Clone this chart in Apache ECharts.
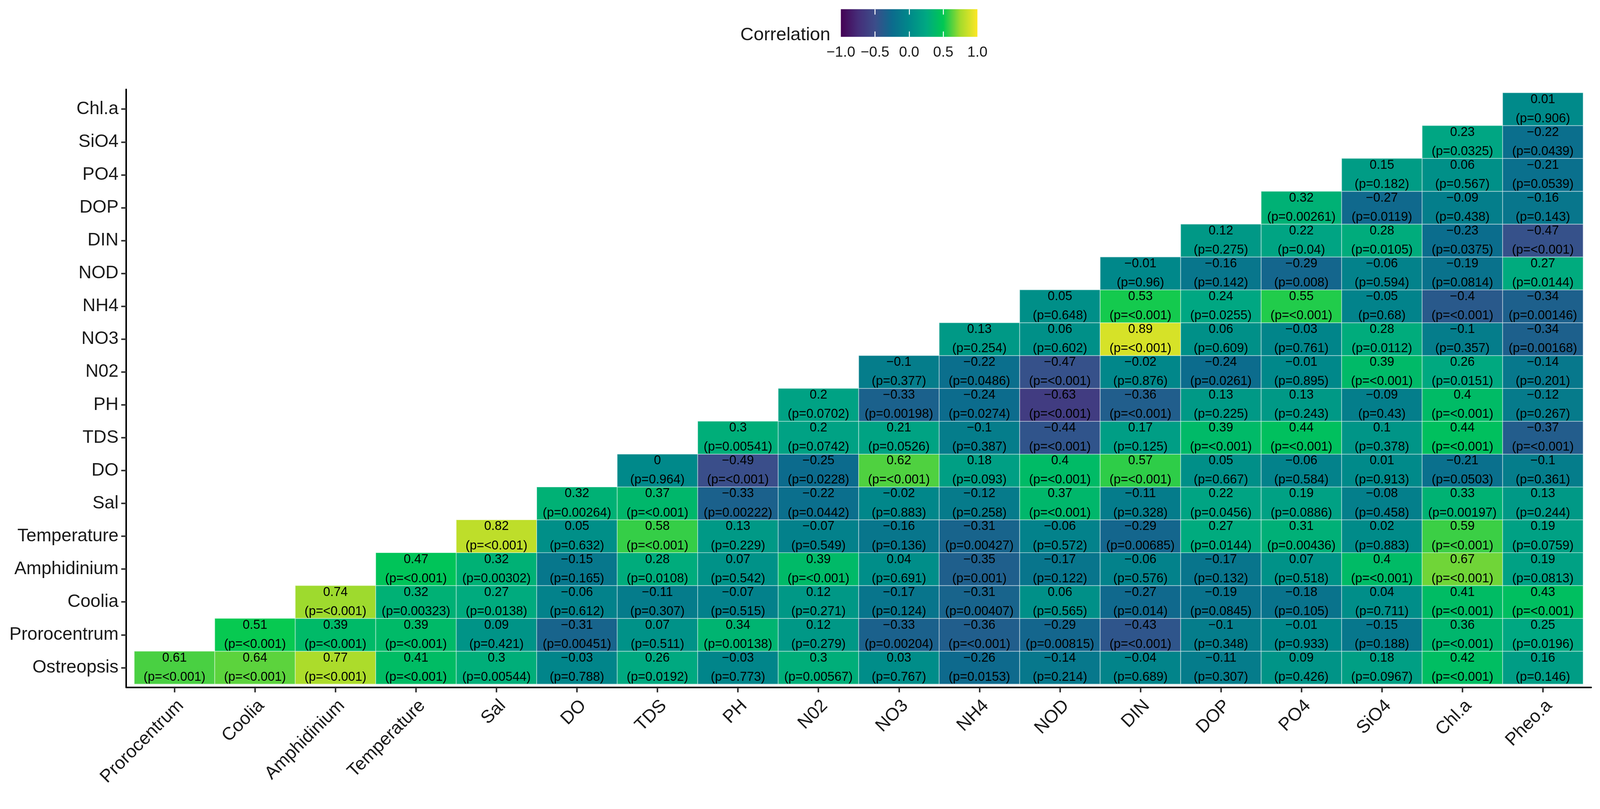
<!DOCTYPE html>
<html><head><meta charset="utf-8">
<script src="https://cdn.jsdelivr.net/npm/echarts@6/dist/echarts.min.js"></script>
<style>html,body{margin:0;padding:0;background:#fff;overflow:hidden;width:100%;height:100%}#chart{width:100vw;height:100vh}</style>
</head><body><div id="chart"></div>
<script>
const xCategories = ['Prorocentrum','Coolia','Amphidinium','Temperature','Sal','DO','TDS','PH','N02','NO3','NH4','NOD','DIN','DOP','PO4','SiO4','Chl.a','Pheo.a'];
const yCategories = ['Ostreopsis','Prorocentrum','Coolia','Amphidinium','Temperature','Sal','DO','TDS','PH','N02','NO3','NH4','NOD','DIN','DOP','PO4','SiO4','Chl.a'];

// row j (y category j) holds columns j..17
const rValues = [
 [0.61,0.64,0.77,0.41,0.3,-0.03,0.26,-0.03,0.3,0.03,-0.26,-0.14,-0.04,-0.11,0.09,0.18,0.42,0.16],
 [0.51,0.39,0.39,0.09,-0.31,0.07,0.34,0.12,-0.33,-0.36,-0.29,-0.43,-0.1,-0.01,-0.15,0.36,0.25],
 [0.74,0.32,0.27,-0.06,-0.11,-0.07,0.12,-0.17,-0.31,0.06,-0.27,-0.19,-0.18,0.04,0.41,0.43],
 [0.47,0.32,-0.15,0.28,0.07,0.39,0.04,-0.35,-0.17,-0.06,-0.17,0.07,0.4,0.67,0.19],
 [0.82,0.05,0.58,0.13,-0.07,-0.16,-0.31,-0.06,-0.29,0.27,0.31,0.02,0.59,0.19],
 [0.32,0.37,-0.33,-0.22,-0.02,-0.12,0.37,-0.11,0.22,0.19,-0.08,0.33,0.13],
 [0,-0.49,-0.25,0.62,0.18,0.4,0.57,0.05,-0.06,0.01,-0.21,-0.1],
 [0.3,0.2,0.21,-0.1,-0.44,0.17,0.39,0.44,0.1,0.44,-0.37],
 [0.2,-0.33,-0.24,-0.63,-0.36,0.13,0.13,-0.09,0.4,-0.12],
 [-0.1,-0.22,-0.47,-0.02,-0.24,-0.01,0.39,0.26,-0.14],
 [0.13,0.06,0.89,0.06,-0.03,0.28,-0.1,-0.34],
 [0.05,0.53,0.24,0.55,-0.05,-0.4,-0.34],
 [-0.01,-0.16,-0.29,-0.06,-0.19,0.27],
 [0.12,0.22,0.28,-0.23,-0.47],
 [0.32,-0.27,-0.09,-0.16],
 [0.15,0.06,-0.21],
 [0.23,-0.22],
 [0.01]
];
const pValues = [
 ['<0.001','<0.001','<0.001','<0.001','0.00544','0.788','0.0192','0.773','0.00567','0.767','0.0153','0.214','0.689','0.307','0.426','0.0967','<0.001','0.146'],
 ['<0.001','<0.001','<0.001','0.421','0.00451','0.511','0.00138','0.279','0.00204','<0.001','0.00815','<0.001','0.348','0.933','0.188','<0.001','0.0196'],
 ['<0.001','0.00323','0.0138','0.612','0.307','0.515','0.271','0.124','0.00407','0.565','0.014','0.0845','0.105','0.711','<0.001','<0.001'],
 ['<0.001','0.00302','0.165','0.0108','0.542','<0.001','0.691','0.001','0.122','0.576','0.132','0.518','<0.001','<0.001','0.0813'],
 ['<0.001','0.632','<0.001','0.229','0.549','0.136','0.00427','0.572','0.00685','0.0144','0.00436','0.883','<0.001','0.0759'],
 ['0.00264','<0.001','0.00222','0.0442','0.883','0.258','<0.001','0.328','0.0456','0.0886','0.458','0.00197','0.244'],
 ['0.964','<0.001','0.0228','<0.001','0.093','<0.001','<0.001','0.667','0.584','0.913','0.0503','0.361'],
 ['0.00541','0.0742','0.0526','0.387','<0.001','0.125','<0.001','<0.001','0.378','<0.001','<0.001'],
 ['0.0702','0.00198','0.0274','<0.001','<0.001','0.225','0.243','0.43','<0.001','0.267'],
 ['0.377','0.0486','<0.001','0.876','0.0261','0.895','<0.001','0.0151','0.201'],
 ['0.254','0.602','<0.001','0.609','0.761','0.0112','0.357','0.00168'],
 ['0.648','<0.001','0.0255','<0.001','0.68','<0.001','0.00146'],
 ['0.96','0.142','0.008','0.594','0.0814','0.0144'],
 ['0.275','0.04','0.0105','0.0375','<0.001'],
 ['0.00261','0.0119','0.438','0.143'],
 ['0.182','0.567','0.0539'],
 ['0.0325','0.0439'],
 ['0.906']
];
const legendTicks = [-1, -0.5, 0, 0.5, 1];
const legendRange = [-1, 1];
const palette = ['#440154','#452d78','#3c4d8a','#0c6b8d','#00898a','#00a882','#00c853','#a5db2c','#fde725'];

const FONT = 'Liberation Sans, Arial, sans-serif';
const minus = s => String(s).replace('-', '\u2212');

const cells = [];
rValues.forEach((row, j) => {
  row.forEach((r, k) => {
    cells.push({ value: [j + k, j, r], p: pValues[j][k] });
  });
});
const idx = xCategories.map((_, i) => i);

const chart = echarts.init(document.getElementById('chart'), null, { renderer: 'canvas' });
// layout designed in 4171-px-wide picture units; one uniform scale to CSS pixels
const s = chart.getWidth() / 4171;
const X = v => v * s, Y = v => v * s, F = v => v * s;

function rectItem(params, api) {
  const x = api.value(0), y = api.value(1);
  const a = api.coord([x - 0.5, y + 0.5]);
  const b = api.coord([x + 0.5, y - 0.5]);
  return {
    type: 'rect',
    shape: { x: a[0], y: a[1], width: b[0] - a[0], height: b[1] - a[1] },
    style: { fill: api.visual('color'), stroke: 'rgba(255,255,255,0.45)', lineWidth: F(2) }
  };
}
function textItem(params, api) {
  const x = api.value(0), y = api.value(1);
  const c = api.coord([x, y]);
  const cell = cells[params.dataIndex];
  const font = F(33) + 'px ' + FONT;
  return {
    type: 'group',
    children: [
      { type: 'text', x: c[0], y: c[1] - Y(25), style: { text: minus(cell.value[2]), fill: '#000', font, align: 'center', verticalAlign: 'middle' } },
      { type: 'text', x: c[0], y: c[1] + Y(25), style: { text: '(p=' + cell.p + ')', fill: '#000', font, align: 'center', verticalAlign: 'middle' } }
    ]
  };
}
function legendItem(params, api) {
  const a = api.coord([api.value(0), 1]);
  const b = api.coord([api.value(1), 0]);
  return {
    type: 'rect',
    shape: { x: a[0], y: a[1], width: b[0] - a[0], height: b[1] - a[1] },
    style: {
      fill: { type: 'linear', x: 0, y: 0, x2: 1, y2: 0,
        colorStops: palette.map((c, i) => ({ offset: i / (palette.length - 1), color: c })) }
    }
  };
}

chart.setOption({
  backgroundColor: '#fff',
  animation: false,
  title: { text: 'Correlation', left: X(1930), top: Y(68), padding: 0,
    textStyle: { fontFamily: FONT, fontSize: F(48), fontWeight: 'normal', color: '#1a1a1a', lineHeight: F(48) } },
  grid: [
    { left: X(329), top: Y(233), width: X(3819), height: Y(1558), outerBoundsMode: 'none', containLabel: false },
    { left: X(2192), top: Y(24), width: X(356), height: Y(72), outerBoundsMode: 'none', containLabel: false }
  ],
  visualMap: { show: false, type: 'continuous', min: -1, max: 1, dimension: 2, seriesIndex: 0,
    inRange: { color: palette } },
  xAxis: [
    { type: 'value', gridIndex: 0, min: -0.6, max: 17.6, splitLine: { show: false },
      axisLine: { show: true, onZero: false, lineStyle: { color: '#000', width: F(4) } },
      axisTick: { show: true, customValues: idx, length: F(13), lineStyle: { color: '#333', width: F(4) } },
      axisLabel: { customValues: idx, formatter: v => xCategories[Math.round(v)], rotate: 45, align: 'right', verticalAlign: 'top',
        margin: F(24), fontSize: F(47), fontFamily: FONT, color: '#1a1a1a' } },
    { type: 'value', gridIndex: 1, min: -1, max: 1, position: 'bottom', z: 10, splitLine: { show: false },
      axisLine: { show: false },
      axisTick: { show: true, inside: true, customValues: [-0.5, 0, 0.5], length: F(14), lineStyle: { color: '#fff', width: F(2.5) } },
      axisLabel: { customValues: legendTicks, formatter: v => minus(v.toFixed(1)), margin: F(22), fontSize: F(38), fontFamily: FONT, color: '#1a1a1a' } },
    { type: 'value', gridIndex: 1, min: -1, max: 1, position: 'top', z: 10, splitLine: { show: false },
      axisLine: { show: false },
      axisTick: { show: true, inside: true, customValues: [-0.5, 0, 0.5], length: F(14), lineStyle: { color: '#fff', width: F(2.5) } },
      axisLabel: { show: false } }
  ],
  yAxis: [
    { type: 'value', gridIndex: 0, min: -0.6, max: 17.6, splitLine: { show: false },
      axisLine: { show: true, onZero: false, lineStyle: { color: '#000', width: F(4) } },
      axisTick: { show: true, customValues: idx, length: F(13), lineStyle: { color: '#333', width: F(4) } },
      axisLabel: { customValues: idx, formatter: v => yCategories[Math.round(v)], margin: F(20), fontSize: F(47), fontFamily: FONT, color: '#1a1a1a' } },
    { type: 'value', gridIndex: 1, min: 0, max: 1, show: false }
  ],
  series: [
    { type: 'custom', xAxisIndex: 0, yAxisIndex: 0, data: cells, renderItem: rectItem, encode: { x: 0, y: 1 }, z: 2, clip: false },
    { type: 'custom', xAxisIndex: 0, yAxisIndex: 0, data: cells, renderItem: textItem, encode: { x: 0, y: 1 }, z: 3, clip: false },
    { type: 'custom', xAxisIndex: 1, yAxisIndex: 1, data: [legendRange], renderItem: legendItem, encode: { x: [0, 1] }, z: 2 }
  ]
});
</script></body></html>
